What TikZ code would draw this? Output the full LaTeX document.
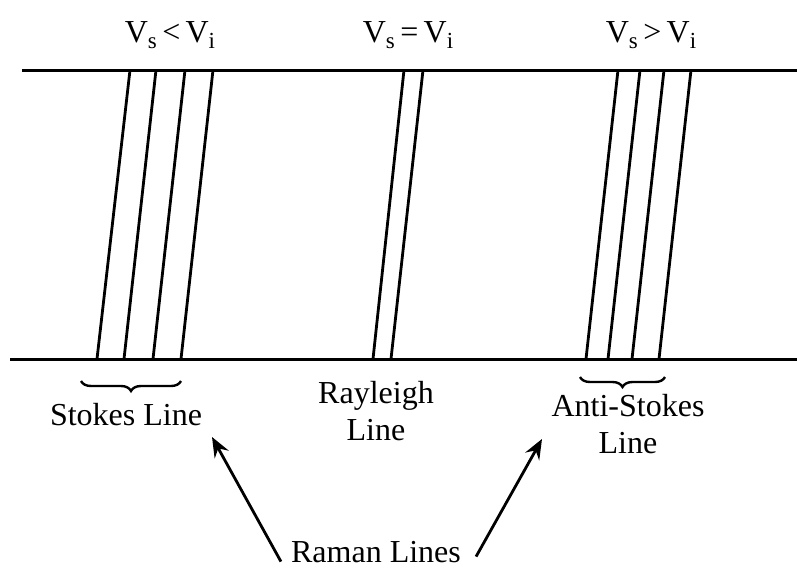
\documentclass[tikz,border=0pt]{standalone}
\usepackage{fontspec}
\setmainfont{Liberation Serif}
\usetikzlibrary{arrows.meta, decorations.pathreplacing, positioning}

\newcommand{\lowsub}[1]{\raisebox{-6pt}{\fontsize{23}{23}\selectfont #1}}

\begin{document}
\begin{tikzpicture}[
    x=1pt, y=-1pt,
    level/.style={draw, line width=3pt},
    specline/.style={draw, line width=2.8pt},
    label/.style={font=\fontsize{32}{37}\selectfont, inner sep=0pt, anchor=base},
    caption/.style={font=\fontsize{32}{37}\selectfont, align=center, inner sep=0pt, anchor=base},
    group/.style={draw, line width=2.4pt, decorate, decoration={brace, mirror, amplitude=10pt}},
    pointer/.style={draw, line width=2.8pt, -{Stealth[length=20pt, width=16pt, inset=7pt]}}
]
\useasboundingbox (0,0) rectangle (797,568);

% Levels
\draw[level] (22,70) -- (797,70);
\draw[level] (10,359) -- (797,359);

% Spectral lines
\foreach \t/\b in {130/97, 156/124, 185/153, 213/181} % Stokes
    \draw[specline] (\t,70) -- (\b,359);
\foreach \t/\b in {404/373, 423/391} % Rayleigh
    \draw[specline] (\t,70) -- (\b,359);
\foreach \t/\b in {618/586, 640/608, 664/632, 691/659} % Anti-Stokes
    \draw[specline] (\t,70) -- (\b,359);

% Frequency labels
\node[label] (vless) at (170,42) {V\lowsub{s}\,<\,V\lowsub{i}};
\node[label] (vequal) at (408,42) {V\lowsub{s}\,=\,V\lowsub{i}};
\node[label] (vmore) at (651,42) {V\lowsub{s}\,>\,V\lowsub{i}};

% Braces
\draw[group] (81,381) -- (181,381);
\draw[group] (580,377) -- (665,377);

% Line names (base = last line)
\node[caption] (stokes) at (126,425) {Stokes Line};
\node[caption] (rayleigh) at (376,440) {Rayleigh\\Line};
\node[caption] (astokes) at (628,453) {Anti-Stokes\\Line};
\node[caption] (raman) at (376,562) {Raman Lines};

% Pointers
\coordinate (stokestip) at (212,437);
\coordinate (astokestip) at (542,439);
\draw[pointer] ([xshift=-10pt, yshift=-10pt]raman.west) -- (stokestip);
\draw[pointer] ([xshift=15pt, yshift=-5pt]raman.east) -- (astokestip);

\end{tikzpicture}
\end{document}
